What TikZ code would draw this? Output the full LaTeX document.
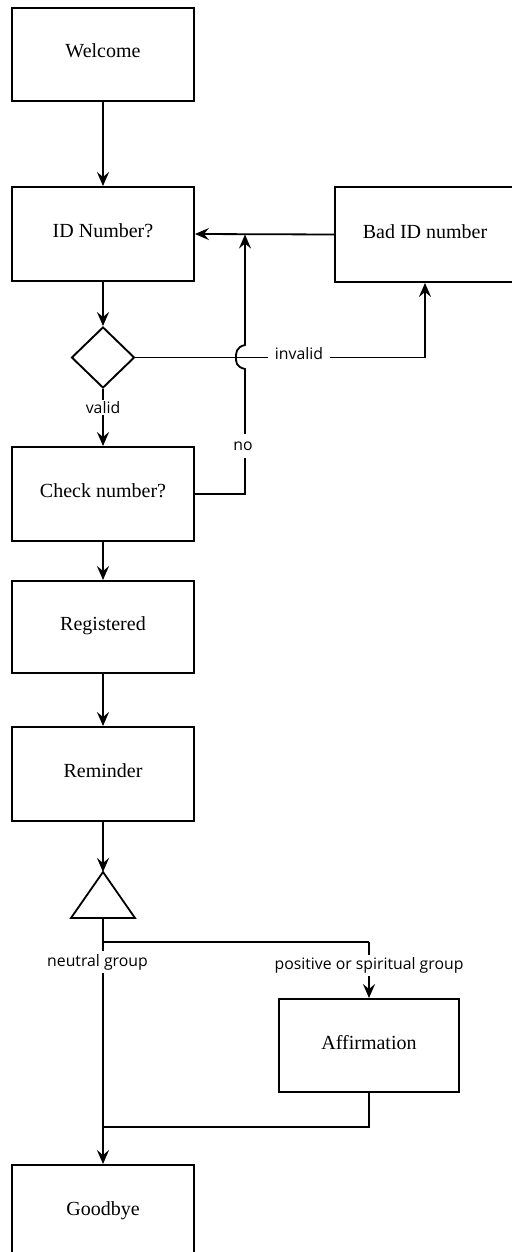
\documentclass[tikz,border=0pt]{standalone}
\usepackage{fontspec}
\setmainfont{Liberation Serif}
\newfontfamily\labelfont{Open Sans}
\usetikzlibrary{arrows.meta,shapes.geometric}
\begin{document}
\begin{tikzpicture}[x=1pt,y=-1pt,
  stage/.style={draw, line width=1.9pt, minimum width=182pt, minimum height=93pt,
    inner sep=0pt, text height=7pt, text depth=0pt,
    font=\fontsize{20}{23}\selectfont},
  flow/.style={line width=1.8pt},
  arr/.style={flow, -{Stealth[length=14pt,width=12pt,inset=5pt]}},
  tag/.style={fill=white, inner xsep=7pt, inner ysep=3pt,
    font=\labelfont\fontsize{15.8}{18}\selectfont},
  decision/.style={diamond, draw, line width=1.9pt, minimum width=63pt,
    minimum height=61pt, inner sep=0pt}]
\useasboundingbox (0,0) rectangle (511,1252);

% process boxes
\node[stage] (welcome) at (103,54.5) {Welcome};
\node[stage, minimum height=94pt] (idnum) at (103,234) {ID Number?};
\node[stage, minimum width=180pt, minimum height=95pt] (badid) at (425,234.5) {Bad ID number};
\node[decision] (valid) at (103,357.5) {};
\node[stage, minimum height=94pt] (check) at (103,494) {Check number?};
\node[stage, minimum height=92pt] (registered) at (103,627) {Registered};
\node[stage, minimum height=94pt] (reminder) at (103,774) {Reminder};
\node[stage, minimum width=180pt] (affirm) at (369,1045.5) {Affirmation};
\node[stage] (goodbye) at (103,1211.5) {Goodbye};

% group split triangle
\coordinate (triTop) at (103,872);
\coordinate (triL) at (71,918);
\coordinate (triR) at (135,918);
\coordinate (triBot) at (103,918);
\draw[flow, line join=miter] (triTop) -- (triR) -- (triL) -- cycle;

% routing points
\coordinate (invTurn) at (425,357.5);
\coordinate (noCorner) at (245,494);
\coordinate (hopLow) at (245,369);
\coordinate (hopHigh) at (245,345);
\coordinate (noTop) at (245,234.5);
\coordinate (split) at (103,942);
\coordinate (splitR) at (369,942);
\coordinate (mergeR) at (369,1127);
\coordinate (merge) at (103,1127);

% connectors
\draw[arr] (welcome.south) -- (idnum.north);
\draw[arr] (badid.west) -- (idnum.east);
\draw[arr] (idnum.south) -- (valid.north);
\draw[arr] (valid.south) -- (check.north);
\draw[arr] (valid.east) -- (invTurn) -- (badid.south);
\draw[arr] (check.east) -- (noCorner) -- (hopLow)
  .. controls (236,367) and (236,362) .. (236,357.5)
  .. controls (236,353) and (236,347) .. (hopHigh) -- (noTop);
\draw[arr] (check.south) -- (registered.north);
\draw[arr] (registered.south) -- (reminder.north);
\draw[arr] (reminder.south) -- (triTop);
\draw[flow] (triBot) -- (split) -- (splitR);
\draw[arr] (splitR) -- (affirm.north);
\draw[arr] (split) -- (goodbye.north);
\draw[flow] (affirm.south) -- (mergeR) -- (merge);

% connector labels
\node[tag] (lblInvalid) at (299,354) {invalid};
\node[tag, inner ysep=1pt] (lblValid) at (103,407.5) {valid};
\node[tag, inner ysep=8pt] (lblNo) at (243,446) {no};
\node[tag, inner xsep=1pt] (lblNeutral) at (97.5,962) {neutral group};
\node[tag, inner xsep=1pt] (lblPositive) at (369,965.5) {positive or spiritual group};
\end{tikzpicture}
\end{document}
